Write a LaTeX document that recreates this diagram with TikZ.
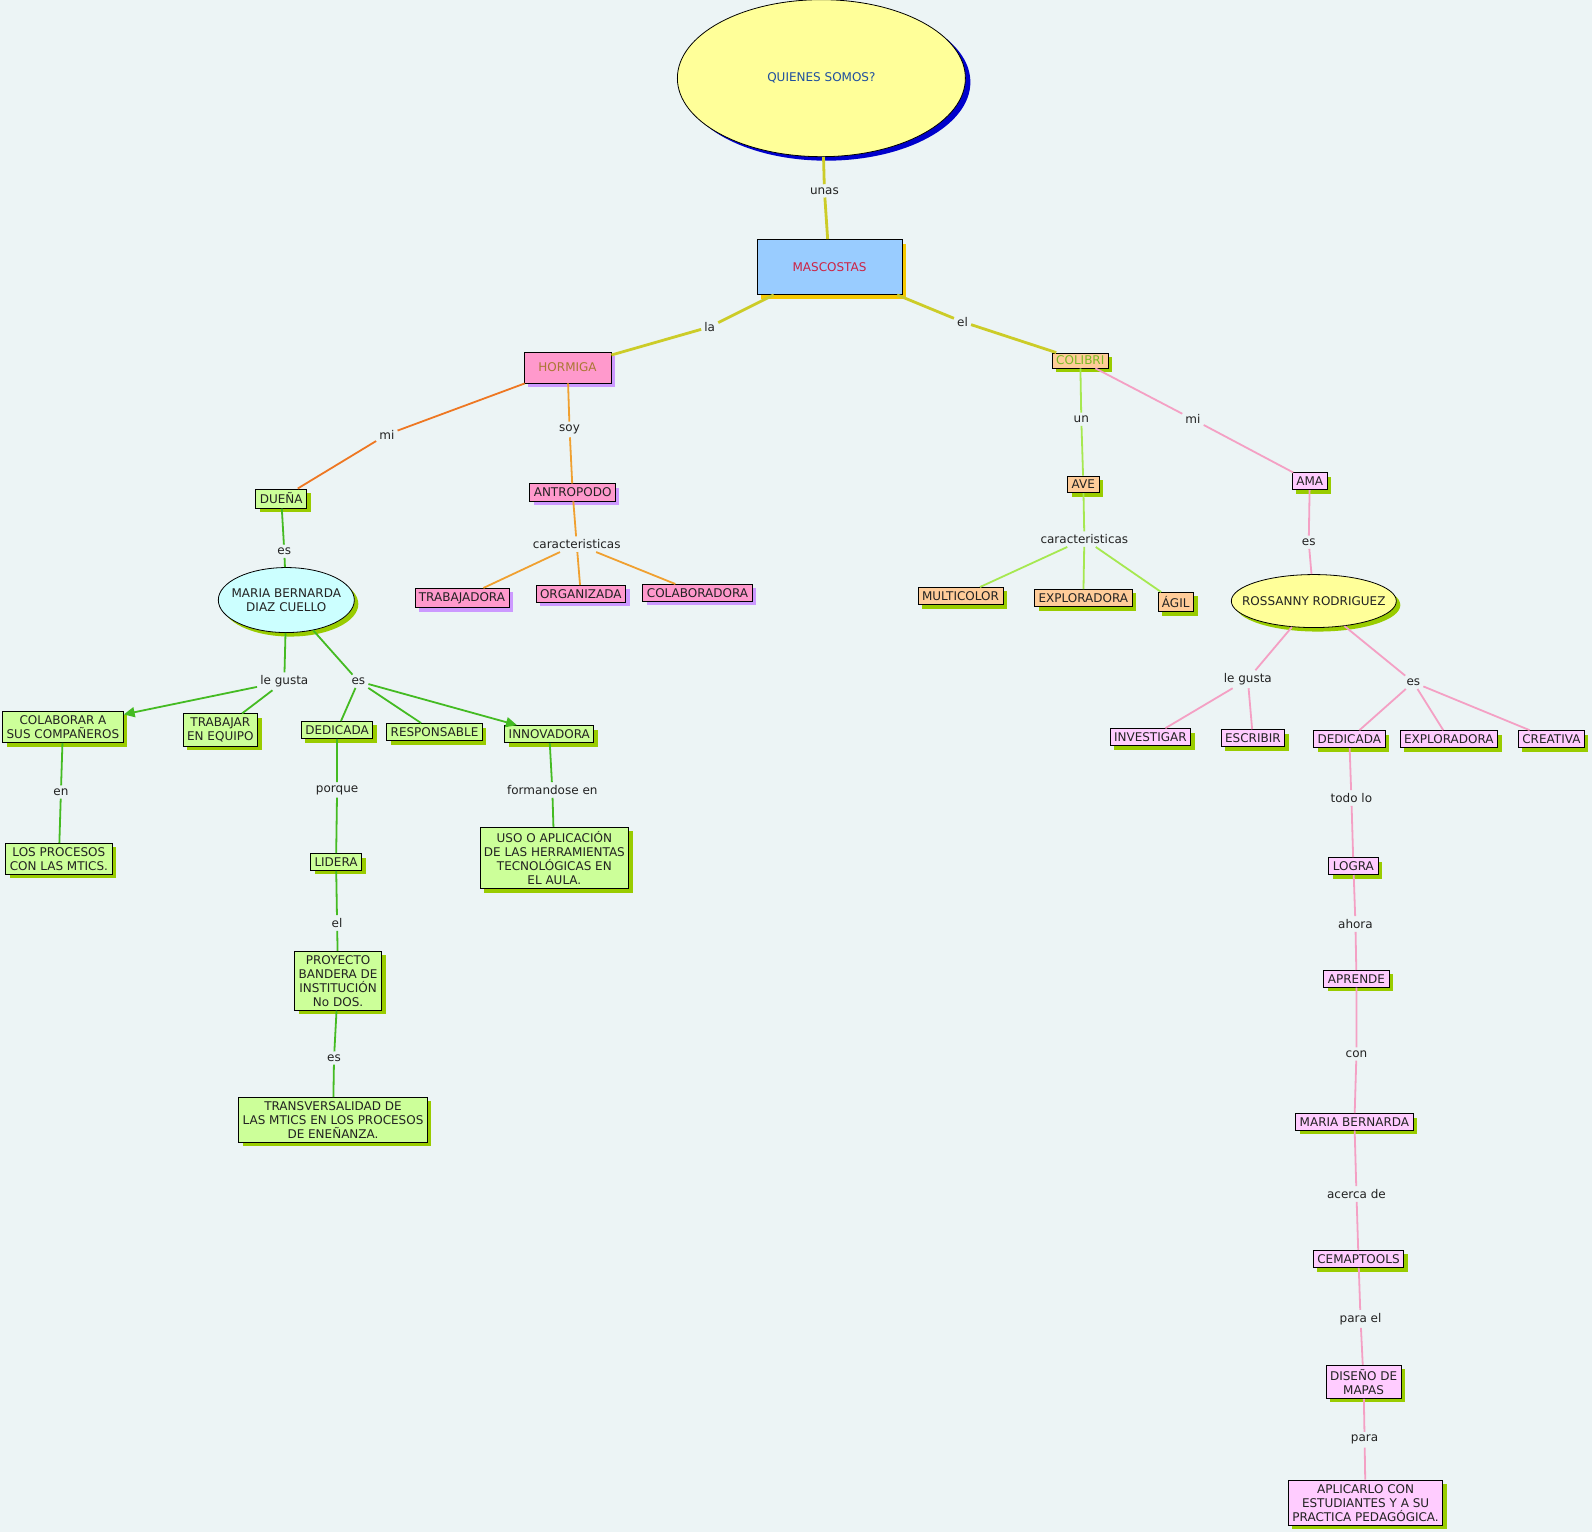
\documentclass[tikz,border=0pt]{standalone}
\usepackage{fontspec}
\setmainfont{DejaVu Sans}
\usepackage{tikz}
\usetikzlibrary{shapes.geometric, arrows.meta, positioning, shadows}

\definecolor{bgc}{RGB}{236,244,245}
\definecolor{ylw}{HTML}{FFFF99}
\definecolor{dkblue}{HTML}{0000CC}
\definecolor{skyb}{HTML}{99CCFF}
\definecolor{gold}{HTML}{F5C800}
\definecolor{pnk}{HTML}{FF99CC}
\definecolor{lav}{HTML}{CC99FF}
\definecolor{peach}{HTML}{FFCC99}
\definecolor{lgrn}{HTML}{CCFF99}
\definecolor{shgrn}{HTML}{99CC00}
\definecolor{cyn}{HTML}{CCFFFF}
\definecolor{lpnk}{HTML}{FFCCFF}
\definecolor{olive}{RGB}{204,204,40}
\definecolor{orgred}{HTML}{EE7722}
\definecolor{orng}{HTML}{F0A030}
\definecolor{grn}{HTML}{44BB22}
\definecolor{lime}{HTML}{A6E850}
\definecolor{pnkline}{HTML}{F4A0C4}
\definecolor{qtxt}{HTML}{1F4F9F}
\definecolor{mtxt}{HTML}{CC2244}
\definecolor{htxt}{HTML}{AA7733}
\definecolor{ctxt}{HTML}{77BB22}
\definecolor{ltxt}{HTML}{222222}

\begin{document}
\begin{tikzpicture}[
    x=1.0153pt, y=-1.0153pt,
    every node/.style={font=\fontsize{12}{14}\selectfont, text=ltxt},
    concept/.style={draw=black, line width=0.8pt, rectangle, align=center,
        inner xsep=4pt, inner ysep=4pt, minimum height=16.5pt},% boxes
    oval/.style={draw=black, line width=0.8pt, ellipse, align=center, inner sep=0pt},
    link/.style={inner sep=3pt},% linking words
    gsh/.style={drop shadow={shadow xshift=4pt, shadow yshift=-4pt, fill=shgrn, opacity=1}},
    lsh/.style={drop shadow={shadow xshift=4pt, shadow yshift=-4pt, fill=lav, opacity=1}},
    thickln/.style={line width=2.8pt},
    ln/.style={line width=1.8pt},
    tip/.style={-{Triangle[length=11pt, width=10pt]}}
]
    \useasboundingbox[fill=bgc] (0,0) rectangle (1568,1509);

    % Top of the map
    \node (qs) [oval, fill=ylw, minimum width=288pt, minimum height=157pt,
        drop shadow={shadow xshift=5pt, shadow yshift=-4pt, fill=dkblue, opacity=1},
        text=qtxt] at (809,77) {QUIENES SOMOS?};
    \node (masc) [concept, fill=skyb, minimum width=145pt, minimum height=55pt,
        drop shadow={shadow xshift=4pt, shadow yshift=-4pt, fill=gold, opacity=1},
        text=mtxt] at (817,263) {MASCOSTAS};
    \node (horm) [concept, fill=pnk, lsh, minimum width=87pt, minimum height=31pt,
        text=htxt] at (559,362) {HORMIGA};
    \node (coli) [concept, fill=peach, gsh, text=ctxt, inner ysep=1pt,
        minimum height=15pt] at (1064,355) {COLIBRI};

    \node (lunas) [link] at (812,188) {unas};
    \node (lla)   [link] at (699,322) {la};
    \node (lel)   [link] at (948,317) {el};

    \draw[olive, thickln] (qs) -- (lunas) -- (masc);
    \draw[olive, thickln] (masc) -- (lla) -- (horm);
    \draw[olive, thickln] (masc) -- (lel) -- (coli);

    % Hormiga branch
    \node (duena) [concept, fill=lgrn, gsh] at (277,491) {DUEÑA};
    \node (antr)  [concept, fill=pnk, lsh] at (564,485) {ANTROPODO};
    \node (trab)  [concept, fill=pnk, lsh] at (455,589) {TRABAJADORA};
    \node (orga)  [concept, fill=pnk, lsh] at (572,585) {ORGANIZADA};
    \node (cola)  [concept, fill=pnk, lsh] at (687,584) {COLABORADORA};

    \node (lmi1)  [link] at (381,428) {mi};
    \node (lsoy)  [link] at (561,423) {soy};
    \node (lcar1) [link] at (568,536) {caracteristicas};

    \draw[orgred, ln] (horm) -- (lmi1) -- (duena);
    \draw[orng, ln] (horm) -- (lsoy) -- (antr) -- (lcar1);
    \draw[orng, ln] (lcar1) -- (trab);
    \draw[orng, ln] (lcar1) -- (orga);
    \draw[orng, ln] (lcar1) -- (cola);

    % Maria Bernarda
    \node (mbd) [oval, fill=cyn, gsh, inner xsep=-10pt, minimum width=136pt,
        minimum height=65pt] at (282,591) {MARIA BERNARDA\\DIAZ CUELLO};
    \node (colab) [concept, fill=lgrn, gsh] at (62,716) {COLABORAR A\\SUS COMPAÑEROS};
    \node (treq)  [concept, fill=lgrn, gsh] at (217,719) {TRABAJAR\\EN EQUIPO};
    \node (ded1)  [concept, fill=lgrn, gsh] at (332,719) {DEDICADA};
    \node (resp)  [concept, fill=lgrn, gsh] at (428,721) {RESPONSABLE};
    \node (inno)  [concept, fill=lgrn, gsh] at (541,723) {INNOVADORA};
    \node (proc)  [concept, fill=lgrn, gsh] at (58,846) {LOS PROCESOS\\CON LAS MTICS.};
    \node (lid)   [concept, fill=lgrn, gsh] at (331,849) {LIDERA};
    \node (proy)  [concept, fill=lgrn, gsh] at (333,966)
        {PROYECTO\\BANDERA DE\\INSTITUCIÓN\\No DOS.};
    \node (trans) [concept, fill=lgrn, gsh] at (328,1103)
        {TRANSVERSALIDAD DE\\LAS MTICS EN LOS PROCESOS\\DE ENEÑANZA.};
    \node (uso)   [concept, fill=lgrn, gsh] at (546,845)
        {USO O APLICACIÓN\\DE LAS HERRAMIENTAS\\TECNOLÓGICAS EN\\EL AULA.};

    \node (les1)    [link] at (280,543) {es};
    \node (lgusta1) [link] at (280,671) {le gusta};
    \node (les2)    [link] at (353,671) {es};
    \node (len)     [link] at (60,780) {en};
    \node (lporq)   [link] at (332,778) {porque};
    \node (lel2)    [link] at (332,909) {el};
    \node (les3)    [link] at (329,1042) {es};
    \node (lform)   [link] at (544,778) {formandose en};

    \draw[grn, ln] (duena) -- (les1) -- (mbd);
    \draw[grn, ln] (mbd) -- (lgusta1) -- (treq);
    \draw[grn, ln, tip] (lgusta1) -- (colab);
    \draw[grn, ln] (mbd) -- (les2) -- (ded1);
    \draw[grn, ln] (les2) -- (resp);
    \draw[grn, ln, tip] (les2) -- (inno);
    \draw[grn, ln] (colab) -- (len) -- (proc);
    \draw[grn, ln] (ded1) -- (lporq) -- (lid) -- (lel2) -- (proy) -- (les3) -- (trans);
    \draw[grn, ln] (inno) -- (lform) -- (uso);

    % Colibri branch
    \node (ave)   [concept, fill=peach, gsh] at (1067,477) {AVE};
    \node (mult)  [concept, fill=peach, gsh] at (946,587) {MULTICOLOR};
    \node (expl1) [concept, fill=peach, gsh] at (1067,589) {EXPLORADORA};
    \node (agil)  [concept, fill=peach, gsh] at (1158,593) {ÁGIL};

    \node (lun)   [link] at (1065,413) {un};
    \node (lcar2) [link] at (1068,531) {caracteristicas};

    \draw[lime, ln] (coli) -- (lun) -- (ave) -- (lcar2);
    \draw[lime, ln] (lcar2) -- (mult);
    \draw[lime, ln] (lcar2) -- (expl1);
    \draw[lime, ln] (lcar2) -- (agil);

    % Rossanny
    \node (ama)  [concept, fill=lpnk, gsh] at (1290,474) {AMA};
    \node (ross) [oval, fill=ylw, gsh, inner xsep=-14pt, minimum width=165pt,
        minimum height=53pt] at (1294,592) {ROSSANNY RODRIGUEZ};
    \node (inv)   [concept, fill=lpnk, gsh] at (1133,726) {INVESTIGAR};
    \node (esc)   [concept, fill=lpnk, gsh] at (1234,727) {ESCRIBIR};
    \node (ded2)  [concept, fill=lpnk, gsh] at (1329,728) {DEDICADA};
    \node (expl2) [concept, fill=lpnk, gsh] at (1427,728) {EXPLORADORA};
    \node (crea)  [concept, fill=lpnk, gsh] at (1528,728) {CREATIVA};
    \node (logra) [concept, fill=lpnk, gsh] at (1333,853) {LOGRA};
    \node (apr)   [concept, fill=lpnk, gsh] at (1336,964) {APRENDE};
    \node (mb2)   [concept, fill=lpnk, gsh] at (1334,1105) {MARIA BERNARDA};
    \node (cmt)   [concept, fill=lpnk, gsh] at (1338,1240) {CEMAPTOOLS};
    \node (dis)   [concept, fill=lpnk, gsh] at (1343,1361) {DISEÑO DE\\MAPAS};
    \node (apl)   [concept, fill=lpnk, gsh] at (1345,1480)
        {APLICARLO CON\\ESTUDIANTES Y A SU\\PRACTICA PEDAGÓGICA.};

    \node (lmi2)    [link] at (1175,413) {mi};
    \node (les4)    [link] at (1289,534) {es};
    \node (lgusta2) [link] at (1229,669) {le gusta};
    \node (les5)    [link] at (1392,672) {es};
    \node (ltodo)   [link] at (1331,786) {todo lo};
    \node (lahora)  [link] at (1335,910) {ahora};
    \node (lcon)    [link] at (1336,1038) {con};
    \node (lacerca) [link] at (1336,1176) {acerca de};
    \node (lparael) [link] at (1340,1299) {para el};
    \node (lpara)   [link] at (1344,1418) {para};

    \draw[pnkline, ln] (coli) -- (lmi2) -- (ama) -- (les4) -- (ross);
    \draw[pnkline, ln] (ross) -- (lgusta2) -- (inv);
    \draw[pnkline, ln] (lgusta2) -- (esc);
    \draw[pnkline, ln] (ross) -- (les5) -- (ded2);
    \draw[pnkline, ln] (les5) -- (expl2);
    \draw[pnkline, ln] (les5) -- (crea);
    \draw[pnkline, ln] (ded2) -- (ltodo) -- (logra) -- (lahora) -- (apr) -- (lcon) -- (mb2)
        -- (lacerca) -- (cmt) -- (lparael) -- (dis) -- (lpara) -- (apl);
\end{tikzpicture}
\end{document}
